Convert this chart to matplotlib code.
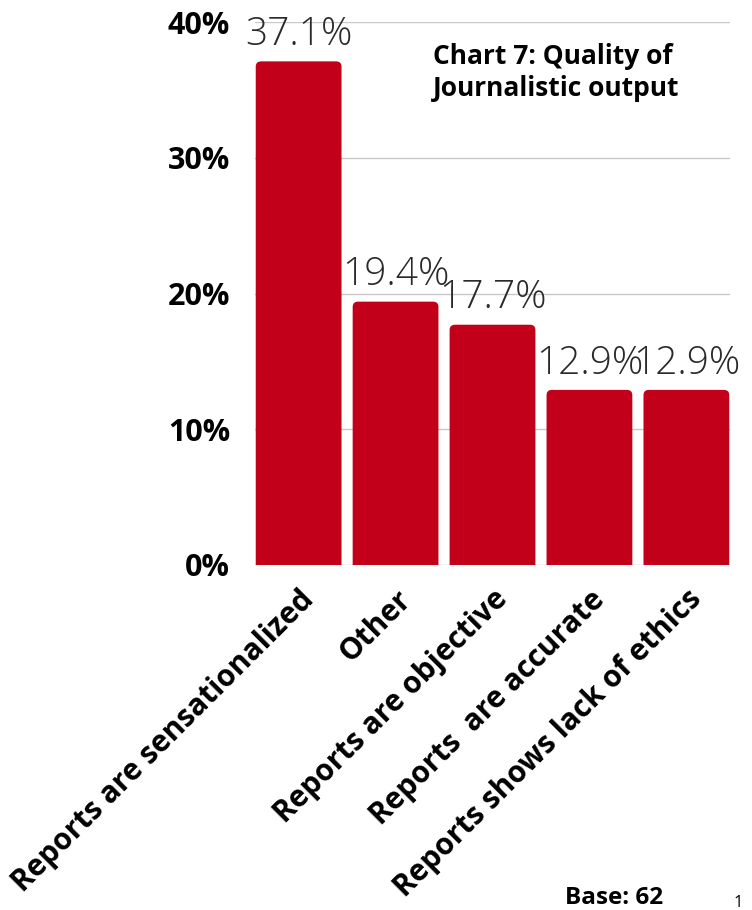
import matplotlib.pyplot as plt
from matplotlib.patches import FancyBboxPatch

categories = [
    "Reports are sensationalized",
    "Other",
    "Reports are objective",
    "Reports  are accurate",
    "Reports shows lack of ethics",
]
shares = [37.1, 19.4, 17.7, 12.9, 12.9]
y_ticks = [0, 10, 20, 30, 40]
y_tick_labels = ["0%", "10%", "20%", "30%", "40%"]

bar_color = "#C3001A"
font = "Open Sans"
W, H = 752, 910

fig = plt.figure(figsize=(W / 100, H / 100), dpi=100)
ax = fig.add_axes([255 / W, 1 - 565 / H, 475 / W, (565 - 22) / H])

width = 0.885
xs = list(range(len(categories)))
bars = ax.bar(xs, shares, width=width, color=bar_color, zorder=2)

# swap the plain rectangles for ones with softly rounded tops
x_px = 475 / (4 + 2 * 0.45)
y_px = (565 - 22) / 40
for b in bars:
    b.set_visible(False)
    patch = FancyBboxPatch(
        (b.get_x(), -2), b.get_width(), b.get_height() + 2,
        boxstyle="round,pad=0,rounding_size=0.055",
        mutation_aspect=x_px / y_px,
        facecolor=bar_color, edgecolor="none", zorder=2,
    )
    ax.add_patch(patch)

for x, v in zip(xs, shares):
    ax.text(x, v + 1.2, f"{v}%", ha="center", va="baseline",
            fontsize=28, fontfamily=font, fontweight="light",
            color="#2a2a2a", zorder=3)

ax.set_xlim(-0.45, 4.45)
ax.set_ylim(0, 40)
ax.set_yticks(y_ticks)
ax.set_yticklabels(y_tick_labels, fontsize=22, fontfamily=font,
                   fontweight="bold")
ax.tick_params(axis="y", length=0, pad=18)
ax.set_xticks(xs)
ax.set_xticklabels(categories, rotation=45, ha="right", va="top",
                   rotation_mode="anchor", fontsize=21.5, fontfamily=font,
                   fontweight="bold")
ax.tick_params(axis="x", length=0, pad=14)
ax.grid(axis="y", color="#C8C8C8", linewidth=1, zorder=0)
ax.set_axisbelow(True)
for s in ax.spines.values():
    s.set_visible(False)

fig.text(433 / W, 1 - 96 / H, "Chart 7: Quality of\nJournalistic output",
         ha="left", va="baseline", fontsize=19, fontfamily=font,
         fontweight="bold", linespacing=1.25)
fig.text(565 / W, 1 - 904 / H, "Base: 62", ha="left", va="baseline",
         fontsize=17.5, fontfamily=font, fontweight="bold")
fig.text(734 / W, 1 - 907 / H, "1", ha="left", va="baseline",
         fontsize=12, fontfamily=font)

fig.savefig("out.png", dpi=100)
